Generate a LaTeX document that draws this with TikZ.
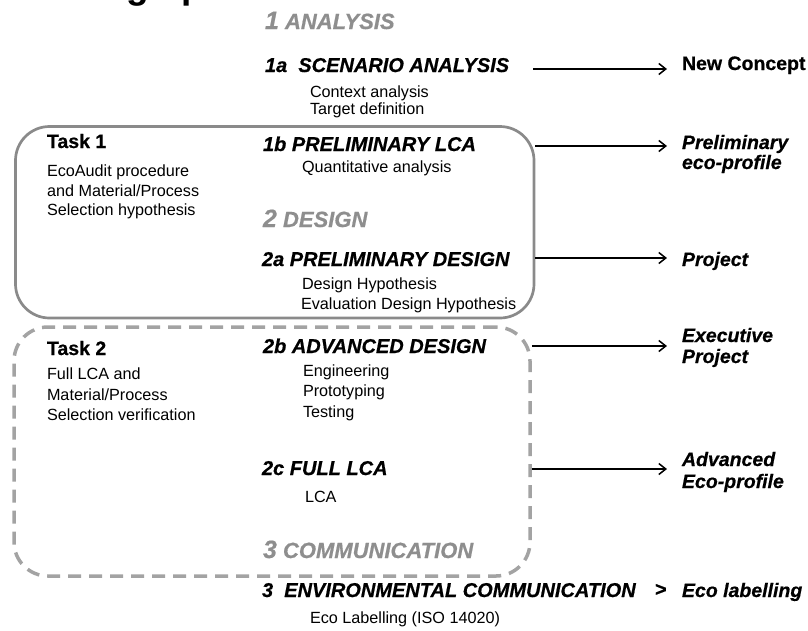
\documentclass[tikz,border=0pt]{standalone}
\usepackage{fontspec}
\setmainfont{Liberation Sans}
\newfontfamily\heavyfam{Liberation Sans}[FakeBold=0.6]
\usetikzlibrary{arrows.meta}
\definecolor{phasegray}{HTML}{8E8E8E}
\definecolor{boxgray}{HTML}{8A8A8A}
\definecolor{dashgray}{HTML}{A3A3A3}
\begin{document}
\begin{tikzpicture}[x=1pt,y=-1pt,
  txt/.style={anchor=base west, inner sep=0pt, outer sep=0pt},
  body/.style={txt, font=\fontsize{16.2}{18}\selectfont},
  head/.style={txt, font=\fontsize{20}{20}\selectfont\heavyfam\bfseries\itshape},
  phase/.style={txt, text=phasegray, font=\fontsize{22}{22}\selectfont\heavyfam\bfseries\itshape},
  task/.style={txt, font=\fontsize{19.5}{20}\selectfont\heavyfam\bfseries},
  outlbl/.style={txt, font=\fontsize{19.5}{20}\selectfont\heavyfam\bfseries\itshape},
  arr/.style={line width=1.5pt, -{Straight Barb[length=7pt,width=11pt]}},
  taskbox/.style={draw=boxgray, line width=2.7pt, rounded corners=34pt, inner sep=0pt},
  taskdash/.style={draw=dashgray, line width=3.5pt, dash pattern=on 13pt off 8pt, rounded corners=34pt, inner sep=0pt},
]
\useasboundingbox (0,0) rectangle (808,630);

% clipped title (only its descenders reach into the picture)
\begin{scope}
  \clip (0,0) rectangle (808,630);
  \node[txt, font=\fontsize{37}{37}\selectfont\bfseries] (title) at (48,-1.5) {Design process};
\end{scope}

% task boxes
\node[taskbox, minimum width=518.5pt, minimum height=191.5pt] (t1) at (274.75,222.25) {};
\node[taskdash, minimum width=516pt, minimum height=249pt] (t2) at (272,451.5) {};

% task texts
\node[task] (task1) at (47,148) {Task 1};
\node[body] (t1l1) at (47,176) {EcoAudit procedure};
\node[body] (t1l2) at (47,196) {and Material/Process};
\node[body] (t1l3) at (47,215) {Selection hypothesis};

\node[task] (task2) at (47,355) {Task 2};
\node[body] (t2l1) at (47,379) {Full LCA and};
\node[body] (t2l2) at (47,400) {Material/Process};
\node[body] (t2l3) at (47,420) {Selection verification};

% phases and steps
\node[phase] (p1) at (265,29) {{\fontsize{25}{25}\selectfont 1} ANALYSIS};
\node[head] (h1a) at (265,72) {1a\ \ SCENARIO ANALYSIS};
\node[body] (d1a1) at (310,97) {Context analysis};
\node[body] (d1a2) at (310,114) {Target definition};

\node[head] (h1b) at (263,151) {1b PRELIMINARY LCA};
\node[body] (d1b1) at (302,172) {Quantitative analysis};

\node[phase] (p2) at (263,227) {{\fontsize{25}{25}\selectfont 2} DESIGN};
\node[head] (h2a) at (262,266) {2a PRELIMINARY DESIGN};
\node[body] (d2a1) at (302,289) {Design Hypothesis};
\node[body] (d2a2) at (301,309) {Evaluation Design Hypothesis};

\node[head] (h2b) at (263,353) {2b ADVANCED DESIGN};
\node[body] (d2b1) at (303,376) {Engineering};
\node[body] (d2b2) at (303,396) {Prototyping};
\node[body] (d2b3) at (303,417) {Testing};

\node[head] (h2c) at (262,475) {2c FULL LCA};
\node[body] (d2c1) at (305,502) {LCA};

\node[phase] (p3) at (263,558) {{\fontsize{25}{25}\selectfont 3} COMMUNICATION};
\node[head] (h3) at (262,597) {3\ \ ENVIRONMENTAL COMMUNICATION};
\node[body] (d31) at (310,623) {Eco Labelling (ISO 14020)};

% outputs
\node[txt, font=\fontsize{19.5}{20}\selectfont\heavyfam\bfseries] (o1) at (682,70) {New Concept};
\node[outlbl] (o2a) at (682,149) {Preliminary};
\node[outlbl] (o2b) at (682,169) {eco-profile};
\node[outlbl] (o3) at (682,266) {Project};
\node[outlbl] (o4a) at (682,342) {Executive};
\node[outlbl] (o4b) at (682,363) {Project};
\node[outlbl] (o5a) at (682,466) {Advanced};
\node[outlbl] (o5b) at (682,488) {Eco-profile};
\node[txt, font=\fontsize{20}{20}\selectfont\heavyfam\bfseries] (gt) at (655,596) {>};
\node[outlbl] (o6) at (682,597) {Eco labelling};

% arrows
\coordinate (s1) at (533,69);
\coordinate (e1) at (667,69);
\coordinate (e2) at (667,146);
\coordinate (e3) at (667,258);
\coordinate (e4) at (667,346);
\coordinate (e5) at (667,469);
\draw[arr] (s1) -- (e1);
\draw[arr] (t1.east |- e2) -- (e2);
\draw[arr] (t1.east |- e3) -- (e3);
\draw[arr] (t2.east |- e4) -- (e4);
\draw[arr] (t2.east |- e5) -- (e5);
\end{tikzpicture}
\end{document}
